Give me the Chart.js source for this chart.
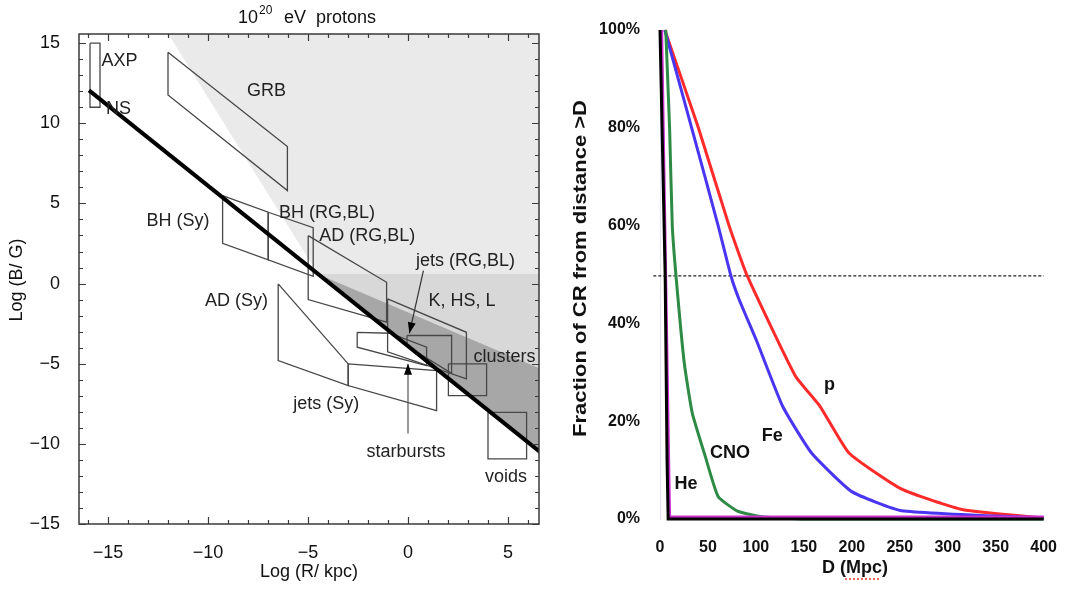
<!DOCTYPE html>
<html><head><meta charset="utf-8">
<script src="https://cdn.jsdelivr.net/npm/chart.js@4.4.1/dist/chart.umd.min.js"></script>
<style>
html,body{margin:0;padding:0;background:#fff;overflow:hidden;}
#wrap{position:relative;width:1068px;height:590px;}
#c1{position:absolute;left:0;top:0;}
#c2{position:absolute;left:550px;top:0;}
</style></head><body>
<div id="wrap">
<canvas id="c1" width="550" height="590"></canvas>
<canvas id="c2" width="518" height="590"></canvas>
</div>
<script>
const FONT = '"Liberation Sans", Arial, Helvetica, sans-serif';

// ================= LEFT PANEL: Hillas plot (10^20 eV protons) =================
const X_TICKS_L = [-15, -10, -5, 0, 5];
const Y_TICKS_L = [-15, -10, -5, 0, 5, 10, 15];

// Hillas limit line
const limitX = [-15.95, 6.6];
const limitY = [12.05, -10.5];

// shaded regions
const lightX = [-12, 6.6, 6.6, -4.5];
const lightY = [15.6, 15.6, 0.6, 0.6];
const midX = [-4.5, 6.6, 6.6];
const midY = [0.6, 0.6, -5.3];
const darkX = [-4.5, 6.6, 6.6];
const darkY = [0.6, -5.3, -10.5];

// source regions (log R/kpc, log B/G)
const axpX = [-15.9, -15.4, -15.4, -15.9];
const axpY = [15, 15, 11, 11];
const grbX = [-12, -6.03, -6.03, -12];
const grbY = [14.43, 8.55, 5.8, 11.77];
const bhSyX = [-9.27, -6.99, -6.99, -9.27];
const bhSyY = [5.49, 4.45, 1.48, 2.51];
const bhRgX = [-6.99, -4.74, -4.74, -6.99];
const bhRgY = [4.45, 3.49, 0.45, 1.48];
const adRgX = [-4.99, -1.07, -1.07, -4.99];
const adRgY = [2.99, 0.08, -2.4, -1.0];
const khslX = [-1.02, 2.92, 2.92, -1.02];
const khslY = [-0.95, -3.04, -5.95, -4.26];
const adSyX = [-6.49, -2.99, -2.99, -6.49];
const adSyY = [-0.02, -5.01, -6.36, -4.8];
const jetsSyX = [-2.99, 1.43, 1.43, -2.99];
const jetsSyY = [-5.01, -5.43, -7.92, -6.36];
const sbX = [-2.54, -0.9, 0.93, 0.93, -2.54];
const sbY = [-3.04, -3.1, -3.97, -5.12, -3.97];
const jetsRgX = [-0.05, 2.18, 2.18, -0.05];
const jetsRgY = [-3.24, -3.24, -5.6, -3.9];
const clustX = [2.02, 3.93, 3.93, 2.02];
const clustY = [-5.01, -5.01, -6.99, -6.99];
const voidX = [4.0, 5.93, 5.93, 4.0];
const voidY = [-8.03, -8.03, -10.94, -10.94];

// arrows
const arrJetsX = [0.77, 0.07];
const arrJetsY = [0.81, -3.1];
const arrSbX = [0, 0];
const arrSbY = [-9.36, -5.0];

const SOURCES = [
  [axpX, axpY], [grbX, grbY], [bhSyX, bhSyY], [bhRgX, bhRgY], [adRgX, adRgY],
  [khslX, khslY], [adSyX, adSyY], [jetsSyX, jetsSyY], [sbX, sbY], [jetsRgX, jetsRgY],
  [clustX, clustY], [voidX, voidY]
];

const LABELS_L = [
  {t:'AXP', x:-15.32, y:13.91}, {t:'NS', x:-15.1, y:10.92}, {t:'GRB', x:-8.05, y:12.0},
  {t:'BH (Sy)', x:-13.07, y:3.93}, {t:'BH (RG,BL)', x:-6.45, y:4.39},
  {t:'AD (RG,BL)', x:-4.44, y:2.99}, {t:'jets (RG,BL)', x:0.4, y:1.43},
  {t:'K, HS, L', x:1.02, y:-1.06}, {t:'clusters', x:3.27, y:-4.6},
  {t:'AD (Sy)', x:-10.15, y:-1.06}, {t:'jets (Sy)', x:-5.74, y:-7.5},
  {t:'starbursts', x:-2.07, y:-10.52}, {t:'voids', x:3.85, y:-12.04}
];

function pts(xs, ys, close) {
  const p = xs.map((v, i) => ({x: v, y: ys[i]}));
  if (close) p.push({x: xs[0], y: ys[0]});
  return p;
}
const minus = v => (v < 0 ? '\u2212' + Math.abs(v) : '' + v);

const leftDatasets = [
  {data: pts(lightX, lightY, true), backgroundColor: '#eaeaea', borderWidth: 0, fill: 'shape', order: 100},
  {data: pts(midX, midY, true), backgroundColor: '#d8d8d8', borderWidth: 0, fill: 'shape', order: 99},
  {data: pts(darkX, darkY, true), backgroundColor: '#a7a7a7', borderWidth: 0, fill: 'shape', order: 98},
  ...SOURCES.map(s => ({data: pts(s[0], s[1], true), borderColor: '#474747', borderWidth: 1.3, fill: false, order: 50})),
  {data: pts(limitX, limitY, false), borderColor: '#000', borderWidth: 4, fill: false, order: 10},
  {data: pts(arrJetsX, arrJetsY, false), borderColor: '#333', borderWidth: 1.2, fill: false, order: 5},
  {data: pts(arrSbX, arrSbY, false), borderColor: '#555', borderWidth: 1.2, fill: false, order: 5}
].map(d => Object.assign({showLine: true, pointRadius: 0, tension: 0}, d));

function arrowHead(ctx, x0, y0, x1, y1, L, W) {
  const a = Math.atan2(y1 - y0, x1 - x0);
  const c = Math.cos(a), s = Math.sin(a);
  ctx.beginPath();
  ctx.moveTo(x1, y1);
  ctx.lineTo(x1 - L * c - W * s, y1 - L * s + W * c);
  ctx.lineTo(x1 - L * c + W * s, y1 - L * s - W * c);
  ctx.closePath();
  ctx.fill();
}

const leftDecor = {
  id: 'leftDecor',
  afterDatasetsDraw(chart) {
    const {ctx, chartArea: a, scales: {x, y}} = chart;
    ctx.save();
    ctx.fillStyle = '#000';
    arrowHead(ctx, x.getPixelForValue(arrJetsX[0]), y.getPixelForValue(arrJetsY[0]),
      x.getPixelForValue(arrJetsX[1]), y.getPixelForValue(arrJetsY[1]), 11, 4);
    arrowHead(ctx, x.getPixelForValue(arrSbX[0]), y.getPixelForValue(arrSbY[0]),
      x.getPixelForValue(arrSbX[1]), y.getPixelForValue(arrSbY[1]), 11, 4);
    // frame
    ctx.strokeStyle = '#3a3a3a'; ctx.lineWidth = 1.5;
    ctx.strokeRect(a.left, a.top, a.right - a.left, a.bottom - a.top);
    ctx.lineWidth = 1.2;
    ctx.beginPath();
    for (let v = Math.ceil(x.min); v <= Math.floor(x.max); v++) {
      const p = Math.round(x.getPixelForValue(v)) + 0.5, len = v % 5 === 0 ? 7 : 4;
      ctx.moveTo(p, a.bottom); ctx.lineTo(p, a.bottom - len);
      ctx.moveTo(p, a.top); ctx.lineTo(p, a.top + len);
    }
    for (let v = Math.ceil(y.min); v <= Math.floor(y.max); v++) {
      const p = Math.round(y.getPixelForValue(v)) + 0.5, len = v % 5 === 0 ? 7 : 4;
      ctx.moveTo(a.left, p); ctx.lineTo(a.left + len, p);
      ctx.moveTo(a.right, p); ctx.lineTo(a.right - len, p);
    }
    ctx.stroke();
    // region labels
    ctx.font = '18px ' + FONT; ctx.fillStyle = '#222';
    ctx.textBaseline = 'middle'; ctx.textAlign = 'left';
    LABELS_L.forEach(l => ctx.fillText(l.t, x.getPixelForValue(l.x), y.getPixelForValue(l.y)));
    ctx.restore();
  },
  afterDraw(chart) {
    const ctx = chart.ctx;
    ctx.save();
    ctx.fillStyle = '#111';
    ctx.textBaseline = 'alphabetic'; ctx.textAlign = 'left';
    ctx.font = '18px ' + FONT;
    ctx.fillText('10', 238, 23);
    const w = ctx.measureText('10').width;
    ctx.font = '12px ' + FONT;
    ctx.fillText('20', 238 + w + 1, 14);
    ctx.font = '18px ' + FONT;
    ctx.fillText('eV  protons', 284, 23);
    // axis titles
    ctx.textAlign = 'center'; ctx.textBaseline = 'middle';
    ctx.fillText('Log (R/ kpc)', 309, 572);
    ctx.translate(17, 280); ctx.rotate(-Math.PI / 2);
    ctx.fillText('Log (B/ G)', 0, 0);
    ctx.restore();
  }
};

new Chart(document.getElementById('c1'), {
  type: 'scatter',
  data: {datasets: leftDatasets},
  options: {
    responsive: false, animation: false,
    layout: {padding: {top: 34, right: 11, left: 0, bottom: 0}, autoPadding: false},
    plugins: {legend: {display: false}, tooltip: {enabled: false}},
    scales: {
      x: {
        type: 'linear', min: -16.45, max: 6.55,
        grid: {display: false}, border: {display: false},
        afterBuildTicks: s => { s.ticks = X_TICKS_L.map(v => ({value: v})); },
        afterFit: s => { s.height = 66; },
        ticks: {font: {family: FONT, size: 18}, color: '#111', padding: 10, maxRotation: 0, callback: minus}
      },
      y: {
        type: 'linear', min: -15, max: 15.57,
        grid: {display: false}, border: {display: false},
        afterBuildTicks: s => { s.ticks = Y_TICKS_L.map(v => ({value: v})); },
        afterFit: s => { s.width = 79; },
        ticks: {font: {family: FONT, size: 18}, color: '#111', padding: 11, callback: minus}
      }
    }
  },
  plugins: [leftDecor]
});

// ================= RIGHT PANEL: fraction of CR from distance > D =================
const D_TICKS = [0, 50, 100, 150, 200, 250, 300, 350, 400];
const F_TICKS = [0, 20, 40, 60, 80, 100];

const pD = [5, 40, 72, 91, 141, 167, 197, 252, 316, 400];
const pF = [100, 80, 60, 49.7, 29.3, 23, 13.5, 6.1, 1.9, 0.2];

const feD = [5, 33, 60.6, 74, 82.5, 101, 128, 158, 200, 252, 400];
const feF = [100, 80, 60, 49.7, 44.9, 36.3, 23, 13.5, 5.6, 1.7, 0.2];

const cnoD = [6, 10, 12.8, 17, 25.3, 33.6, 47.2, 60.6, 80.8, 107.8, 151.5, 400];
const cnoF = [100, 80, 60, 49, 31.9, 21.7, 12.8, 4.6, 1.6, 0.4, 0, 0];

const heD = [0, 5.4, 7.4, 8.5, 400];
const heF = [100, 49.7, 11.5, 0, 0];

const mgD = [1.7, 9.1, 10, 400];
const mgF = [100, 11, 0.4, 0.4];

const halfD = [-7, 400];
const halfF = [49.7, 49.7];

const LABELS_R = [
  {t:'p', x:171, y:27.4}, {t:'Fe', x:106, y:16.9},
  {t:'CNO', x:52.2, y:13.5}, {t:'He', x:15.2, y:7.2}
];

const line = (xs, ys, color, w, order, extra) => Object.assign({
  data: pts(xs, ys, false), borderColor: color, borderWidth: w, showLine: true,
  pointRadius: 0, fill: false, clip: false, order: order, tension: 0.15
}, extra || {});

const rightDecor = {
  id: 'rightDecor',
  afterDatasetsDraw(chart) {
    const {ctx, scales: {x, y}} = chart;
    ctx.save();
    ctx.fillStyle = '#111';
    ctx.font = 'bold 18px ' + FONT;
    ctx.textBaseline = 'middle'; ctx.textAlign = 'left';
    LABELS_R.forEach(l => ctx.fillText(l.t, x.getPixelForValue(l.x), y.getPixelForValue(l.y)));
    ctx.restore();
  },
  afterDraw(chart) {
    const ctx = chart.ctx;
    ctx.save();
    ctx.fillStyle = '#111';
    ctx.font = 'bold 18px ' + FONT;
    ctx.textAlign = 'center'; ctx.textBaseline = 'middle';
    ctx.fillText('D (Mpc)', 305, 568);
    ctx.strokeStyle = '#e03a3a'; ctx.lineWidth = 1.5; ctx.setLineDash([2, 2]);
    ctx.beginPath(); ctx.moveTo(295, 579); ctx.lineTo(331, 579); ctx.stroke();
    ctx.setLineDash([]);
    ctx.translate(31, 268.5); ctx.rotate(-Math.PI / 2);
    const t = 'Fraction of CR from distance >D';
    const w = ctx.measureText(t).width;
    ctx.scale(337 / w, 1);
    ctx.fillText(t, 0, 0);
    ctx.restore();
  }
};

new Chart(document.getElementById('c2'), {
  type: 'scatter',
  data: {datasets: [
    line(halfD, halfF, '#222', 1.2, 6, {borderDash: [3, 2], tension: 0}),
    line(pD, pF, '#ff2a2a', 3, 5),
    line(feD, feF, '#4a35f0', 3, 4),
    line(cnoD, cnoF, '#2e8b45', 3, 3),
    line(mgD, mgF, '#cc30d0', 3, 2, {tension: 0}),
    line(heD, heF, '#000', 3, 1, {tension: 0})
  ]},
  options: {
    responsive: false, animation: false,
    layout: {padding: {top: 30, right: 11, left: 0, bottom: 0}, autoPadding: false},
    plugins: {legend: {display: false}, tooltip: {enabled: false}},
    scales: {
      x: {
        type: 'linear', min: 0, max: 400,
        grid: {display: false}, border: {display: false},
        afterBuildTicks: s => { s.ticks = D_TICKS.map(v => ({value: v})); },
        afterFit: s => { s.height = 71; },
        ticks: {font: {family: FONT, size: 16, weight: 'bold'}, color: '#111', padding: 11, maxRotation: 0}
      },
      y: {
        type: 'linear', min: 0, max: 100,
        grid: {display: false}, border: {display: true, color: '#e2e2fa', width: 1},
        afterBuildTicks: s => { s.ticks = F_TICKS.map(v => ({value: v})); },
        afterFit: s => { s.width = 110; },
        ticks: {font: {family: FONT, size: 16, weight: 'bold'}, color: '#111', padding: 12, callback: v => v + '%'}
      }
    }
  },
  plugins: [rightDecor]
});
</script>
</body></html>
